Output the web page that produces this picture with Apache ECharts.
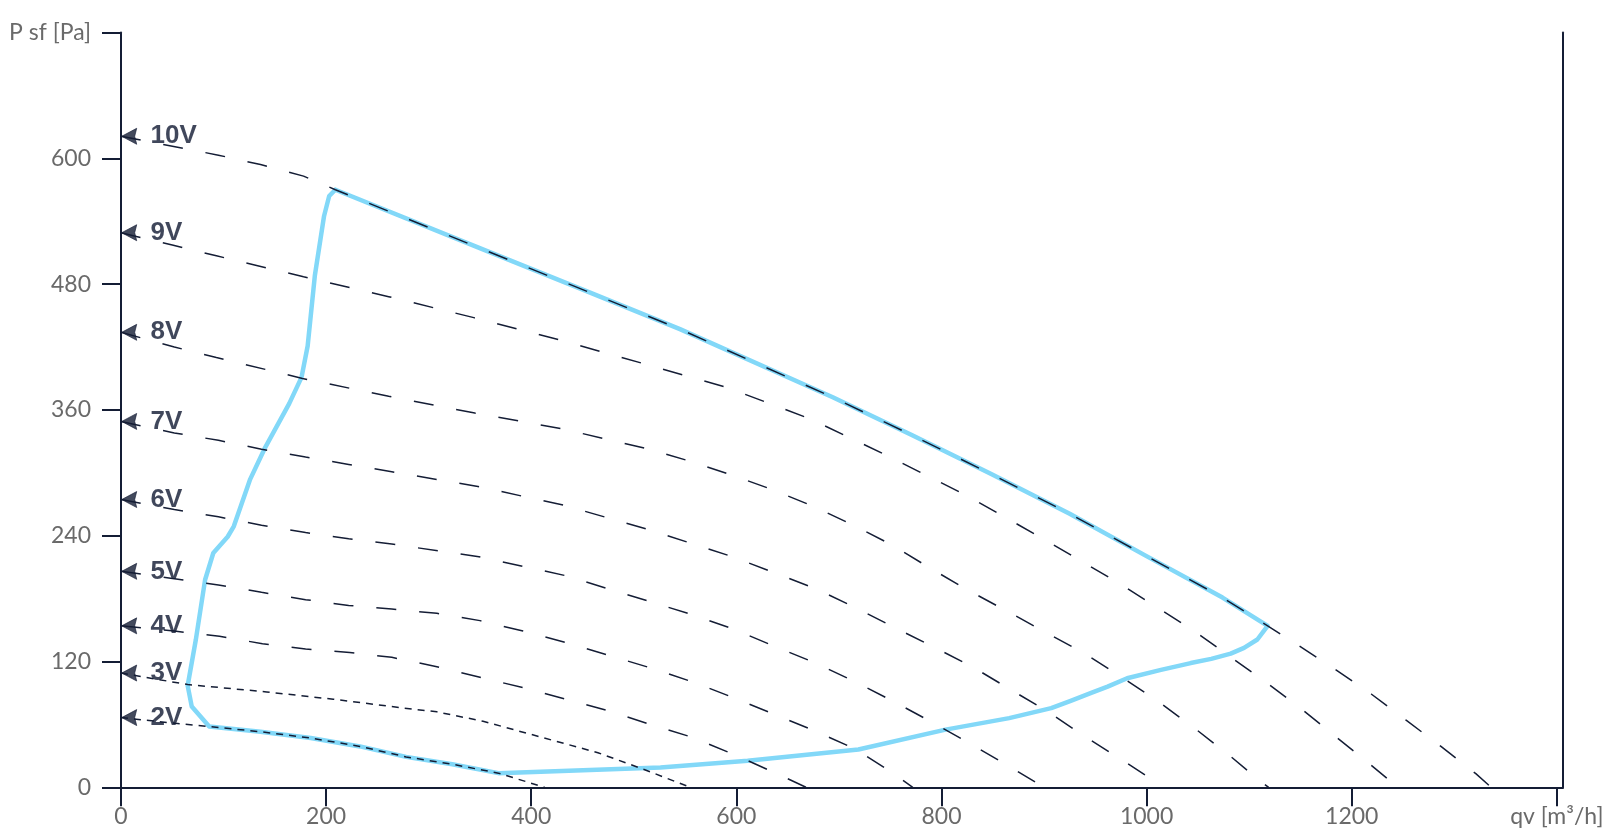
<!DOCTYPE html>
<html>
<head>
<meta charset="utf-8">
<title>Fan curves</title>
<script src="https://cdn.jsdelivr.net/npm/echarts@6/dist/echarts.min.js"></script>
<style>
  html, body { margin: 0; padding: 0; background: #fff; }
  #chart { width: 1616px; height: 840px; }
</style>
</head>
<body>
<div id="chart"></div>
<script>
// tick labels
const qvTicks = [0, 200, 400, 600, 800, 1000, 1200, 1400]
const psTicks = [0, 120, 240, 360, 480, 600, 720]
const qvName = 'qv [m³/h]'
const psName = 'P sf [Pa]'

// control voltages
const voltages = ['10V', '9V', '8V', '7V', '6V', '5V', '4V', '3V', '2V']

// fan curves [qv, Psf]
const curve10V = [[0, 621], [95, 603], [136, 594], [178, 583], [209, 570], [348, 515], [452, 474], [545, 437], [694, 372], [771, 336], [848, 299], [925, 261], [999, 221], [1074, 181], [1118, 154], [1147, 136], [1183, 113], [1219, 89], [1253, 64], [1287, 39], [1321, 13], [1336, 0]]
const curve9V = [[0, 529], [51, 517], [93, 507], [178, 487], [261, 468], [344, 448], [427, 427], [510, 404], [592, 381], [673, 351], [750, 315], [827, 277], [901, 236], [976, 193], [1048, 148], [1118, 99], [1152, 74], [1186, 47], [1219, 21], [1245, 0]]
const curve8V = [[0, 434], [52, 420], [93, 410], [177, 390], [261, 373], [345, 357], [430, 342], [513, 323], [555, 311], [595, 298], [635, 284], [675, 268], [714, 250], [752, 231], [789, 209], [826, 188], [864, 168], [901, 148], [939, 128], [976, 105], [1011, 82], [1046, 57], [1080, 31], [1112, 5], [1119, 0]]
const curve7V = [[0, 349], [52, 338], [95, 331], [137, 322.5], [180, 315], [222, 308], [264, 301], [348, 287], [432, 269], [514, 246], [555, 233], [596, 220], [636, 205], [676, 190], [715, 172], [753, 153], [792, 134], [830, 115], [866, 94], [904, 72], [939, 49], [976, 26], [1011, 4], [1017, 0]]
const curve6V = [[0, 274.5], [52, 265], [95, 258], [137, 250], [180, 243], [222, 237], [264, 232], [349, 220], [433, 202], [556, 165], [597, 151], [636, 135], [676, 119], [715, 101], [753, 82], [791, 62], [829, 41], [866, 20], [900, 0]]
const curve5V = [[0, 206], [52, 199], [95, 193], [137, 186], [180, 179], [222, 173.5], [264, 170], [308, 166], [350, 159], [392, 149], [434, 138], [516, 114], [556, 101], [596, 86], [636, 70], [676, 54], [715, 37], [752, 14], [772, 0]]
const curve4V = [[0, 154], [52, 149], [96, 144], [138, 137], [180, 132], [223, 128.5], [264, 124], [308, 115], [350, 105], [392, 95], [434, 84], [475, 73], [516, 60], [556, 48], [596, 32], [635, 15], [668, 0]]
const curve3V = [[0, 109], [65, 98], [142, 91], [207, 84], [272, 76], [308, 72], [353, 63], [409, 48], [465, 33], [510, 17], [555, 0]]
const curve2V = [[0, 66.5], [53, 61], [86, 58], [136, 53], [185, 47], [233, 39], [278, 29], [323, 22], [368, 13.5], [413, 0]]

// working range of the fan
const envelope = [[209, 570], [348, 515], [452, 474], [545, 437], [694, 372], [771, 336], [848, 299], [925, 261], [999, 221], [1074, 181], [1118, 154], [1108, 141], [1095, 133], [1082, 127.5], [1063, 122.5], [1043, 118.5], [1014, 112], [981, 104], [962, 96], [946, 90], [926, 82.5], [907, 75.5], [866, 66], [804, 55], [719, 36], [611, 25.4], [526, 19], [368, 13.5], [323, 22], [278, 29], [233, 39], [185, 47], [136, 53], [86, 58], [69, 77], [65, 97], [73, 141], [82, 198], [90, 223.5], [104, 239], [110, 249], [126, 294], [140, 323], [164, 366], [176, 391], [182, 421], [189, 488], [198, 545], [203, 564], [209, 570]]

const curves = [curve10V, curve9V, curve8V, curve7V, curve6V, curve5V, curve4V, curve3V, curve2V]

const navy = '#141d35'
const blue = '#82d8f8'
const grey = '#6a6a6a'
const axisFont = 'Lato'

// Linienserie fuer eine Kennlinie
function curveSeries(name, data) {
  const fine = name === '3V' || name === '2V'
  return {
    name: name,
    type: 'line',
    data: data,
    symbol: 'none',
    z: 3,
    silent: true,
    lineStyle: {
      color: navy,
      width: 1.5,
      type: fine ? [7, 6] : [20, 23]
    }
  }
}

const startPoints = curves.map(c => [0, c[0][1]])

const option = {
  backgroundColor: '#fff',
  animation: false,
  grid: {
    left: 121,
    right: 53,
    top: 32.5,
    bottom: 52.7,
    outerBoundsMode: 'none'
  },
  xAxis: {
    type: 'value',
    min: 0,
    max: 1406,
    interval: 200,
    axisLine: { show: true, onZero: false, lineStyle: { color: navy, width: 2 } },
    axisTick: { show: true, length: 19, customValues: qvTicks, lineStyle: { color: navy, width: 2 } },
    axisLabel: {
      customValues: qvTicks,
      margin: 18,
      fontSize: 23,
      fontFamily: axisFont,
      color: grey,
      formatter: v => (v === 1400 ? qvName : String(v))
    },
    splitLine: { show: false }
  },
  yAxis: [
    {
      type: 'value',
      min: 0,
      max: 720,
      interval: 120,
      axisLine: { show: true, onZero: false, lineStyle: { color: navy, width: 2 } },
      axisTick: { show: true, length: 19, lineStyle: { color: navy, width: 2 } },
      axisLabel: {
        margin: 30,
        fontSize: 23,
        fontFamily: axisFont,
        color: grey,
        formatter: v => (v === psTicks[psTicks.length - 1] ? psName : String(v))
      },
      splitLine: { show: false }
    },
    {
      type: 'value',
      position: 'right',
      min: 0,
      max: 720,
      axisLine: { show: true, onZero: false, lineStyle: { color: navy, width: 2 } },
      axisTick: { show: false },
      axisLabel: { show: false },
      splitLine: { show: false }
    }
  ],
  series: [
    {
      name: 'envelope',
      type: 'line',
      data: envelope,
      symbol: 'none',
      z: 2,
      silent: true,
      lineStyle: { color: blue, width: 4.5, cap: 'round', join: 'round' }
    },
    ...voltages.map((v, i) => curveSeries(v, curves[i])),
    {
      name: 'arrows',
      type: 'scatter',
      data: startPoints,
      // Pfeil nach links mit flacher Kerbe
      symbol: 'path://M0,8 L15,0 L13,8 L15,16 Z',
      symbolSize: [15, 16],
      symbolOffset: [8.2, 0],
      z: 4,
      silent: true,
      itemStyle: { color: navy, borderColor: navy, borderWidth: 0.8 }
    },
    {
      name: 'labels',
      type: 'scatter',
      data: startPoints,
      symbolSize: 1,
      z: 5,
      silent: true,
      itemStyle: { color: 'rgba(0,0,0,0)' },
      label: {
        show: true,
        position: 'right',
        distance: 29,
        fontSize: 26,
        fontWeight: 'bold',
        fontFamily: 'Liberation Sans',
        color: '#101932',
        formatter: p => voltages[p.dataIndex]
      }
    }
  ]
}

echarts.init(document.getElementById('chart')).setOption(option)
</script>
</body>
</html>
